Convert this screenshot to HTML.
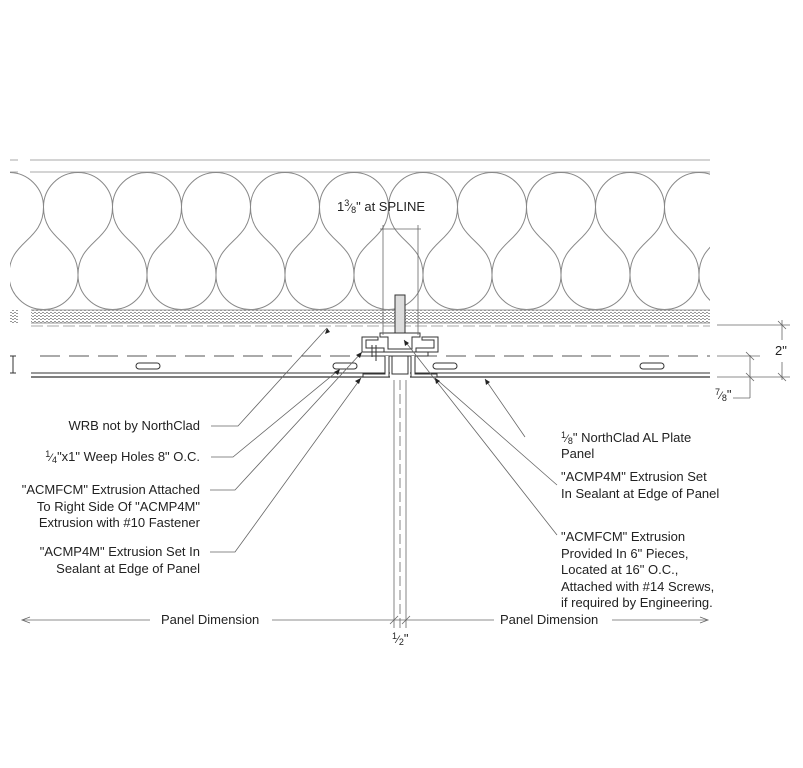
<!DOCTYPE html>
<html><head><meta charset="utf-8"><style>
html,body{margin:0;padding:0;background:#fff;}
svg{display:block}
text{font-family:"Liberation Sans",Arial,sans-serif;fill:#222;font-size:13px}
</style></head><body>
<svg width="803" height="768" viewBox="0 0 803 768" xmlns="http://www.w3.org/2000/svg">
<defs>
<clipPath id="c"><rect x="10" y="172" width="700" height="138"/></clipPath>
<pattern id="h" width="4" height="3" patternUnits="userSpaceOnUse"><rect width="4" height="3" fill="#fff"/><path d="M0 1.5h2M2 0.5h2" stroke="#999" stroke-width="1"/></pattern>
</defs>
<line x1="30" y1="160" x2="710" y2="160" stroke="#aaa"/>
<line x1="30" y1="172" x2="710" y2="172" stroke="#aaa"/>
<line x1="10" y1="160" x2="18" y2="160" stroke="#aaa"/>
<line x1="10" y1="172" x2="18" y2="172" stroke="#aaa"/>
<g clip-path="url(#c)" fill="none" stroke="#888" stroke-width="1">
<path d="
M-25.5 207 A34.5 34.5 0 0 1 43.5 207 A34.5 34.5 0 0 1 112.5 207 A34.5 34.5 0 0 1 181.5 207 A34.5 34.5 0 0 1 250.5 207 A34.5 34.5 0 0 1 319.5 207 A34.5 34.5 0 0 1 388.5 207 A34.5 34.5 0 0 1 457.5 207 A34.5 34.5 0 0 1 526.5 207 A34.5 34.5 0 0 1 595.5 207 A34.5 34.5 0 0 1 664.5 207 A34.5 34.5 0 0 1 733.5 207
M-60 275 A34.5 34.5 0 0 0 9 275 A34.5 34.5 0 0 0 78 275 A34.5 34.5 0 0 0 147 275 A34.5 34.5 0 0 0 216 275 A34.5 34.5 0 0 0 285 275 A34.5 34.5 0 0 0 354 275 A34.5 34.5 0 0 0 423 275 A34.5 34.5 0 0 0 492 275 A34.5 34.5 0 0 0 561 275 A34.5 34.5 0 0 0 630 275 A34.5 34.5 0 0 0 699 275 A34.5 34.5 0 0 0 768 275"/>
<g id="x">
<path d="M-25.5 207 C-25.5 242 9 240 9 275 M-25.5 207 C-25.5 242 -60 240 -60 275"/>
</g>
<use href="#x" x="69"/><use href="#x" x="138"/><use href="#x" x="207"/><use href="#x" x="276"/><use href="#x" x="345"/><use href="#x" x="414"/><use href="#x" x="483"/><use href="#x" x="552"/><use href="#x" x="621"/><use href="#x" x="690"/><use href="#x" x="759"/>
</g>
<rect x="31" y="310" width="679" height="13" fill="url(#h)"/>
<line x1="31" y1="310" x2="710" y2="310" stroke="#999"/>
<line x1="31" y1="323" x2="710" y2="323" stroke="#999"/>
<rect x="10" y="310" width="8" height="13" fill="url(#h)"/>
<line x1="31" y1="326" x2="710" y2="326" stroke="#aaa" stroke-dasharray="12 4"/>
<line x1="40" y1="356" x2="710" y2="356" stroke="#555" stroke-dasharray="20 9"/>
<path d="M10 356h6M13 356v17M10 373h6" stroke="#333" fill="none"/>
<line x1="31" y1="373" x2="390" y2="373" stroke="#333"/>
<line x1="31" y1="377" x2="390" y2="377" stroke="#333" stroke-width="1.3"/>
<line x1="410" y1="373" x2="710" y2="373" stroke="#333"/>
<line x1="410" y1="377" x2="710" y2="377" stroke="#333" stroke-width="1.3"/>
<g fill="#fff" stroke="#333">
<rect x="136" y="363" width="24" height="6" rx="3"/><rect x="333" y="363" width="24" height="6" rx="3"/><rect x="433" y="363" width="24" height="6" rx="3"/><rect x="640" y="363" width="24" height="6" rx="3"/>
</g>
<g fill="#fff" stroke="#333" stroke-width="1">
<rect x="395" y="295" width="10" height="40" fill="#ddd"/>
<path d="M380 333h40v4h-8v12h-24v-12h-8z"/>
<path d="M362 337h16v3h-12v8h18v4h-22z"/>
<path d="M438 337h-16v3h12v8h-18v4h22z"/>
<path d="M372 352h56v4h-56z"/>
<path d="M385 356v18h-22v3h26v-21"/>
<path d="M415 356v18h22v3h-26v-21"/>
<rect x="392" y="356" width="16" height="18"/>
<path d="M372 345v12M376 345v16" />
</g>
<g stroke="#666" fill="none" stroke-width="0.8">
<line x1="383" y1="225" x2="383" y2="335"/>
<line x1="418" y1="225" x2="418" y2="335"/>
<line x1="380" y1="229" x2="421" y2="229"/>
<line x1="394" y1="380" x2="394" y2="628"/>
<line x1="406" y1="380" x2="406" y2="628"/>
<line x1="400" y1="380" x2="400" y2="628" stroke-dasharray="10 4"/>
<line x1="22" y1="620" x2="150" y2="620"/>
<line x1="272" y1="620" x2="494" y2="620"/>
<line x1="612" y1="620" x2="708" y2="620"/>
<path d="M30 617l-8 3 8 3M700 617l8 3-8 3"/>
<path d="M390 624l8-8M402 624l8-8"/>
<line x1="717" y1="325" x2="790" y2="325"/>
<line x1="717" y1="377" x2="790" y2="377"/>
<line x1="717" y1="356" x2="760" y2="356"/>
<line x1="782" y1="320" x2="782" y2="340"/><line x1="782" y1="362" x2="782" y2="380"/>
<line x1="750" y1="355" x2="750" y2="398"/>
<line x1="733" y1="398" x2="750" y2="398"/>
<path d="M778 321l8 8M778 373l8 8M746 352l8 8M746 373l8 8"/>
<polyline points="211,426 238,426 327,328"/>
<polyline points="211,457 233,457 340,369"/>
<polyline points="210,490 235,490 362,352"/>
<polyline points="210,552 235,552 361,378"/>
<polyline points="525,437 485,379"/>
<polyline points="557,485 435,378"/>
<polyline points="557,535 404,340"/>
</g>
<g fill="#222">
<path d="M327 328l-2 6 5-2z"/><path d="M340 369l-6 3 4 3z"/><path d="M362 352l-6 3 4 3z"/><path d="M361 378l-6 3 4 3z"/>
<path d="M485 379l1 6 4-3z"/><path d="M435 378l1 6 4-3z"/><path d="M404 340l1 6 4-3z"/>
</g>
<text x="337" y="211">1<tspan font-size="9" dy="-5">3</tspan><tspan font-size="11" dy="5">⁄</tspan><tspan font-size="9" dy="2">8</tspan><tspan dy="-2">" at SPLINE</tspan></text>
<text x="775" y="355">2"</text>
<text x="715" y="399"><tspan font-size="9" dy="-4">7</tspan><tspan font-size="11" dy="4">⁄</tspan><tspan font-size="9" dy="2">8</tspan><tspan dy="-2">"</tspan></text>
<g text-anchor="end">
<text x="200" y="430">WRB not by NorthClad</text>
<text x="200" y="461"><tspan font-size="9" dy="-4">1</tspan><tspan font-size="11" dy="4">⁄</tspan><tspan font-size="9" dy="2">4</tspan><tspan dy="-2">"x1" Weep Holes 8" O.C.</tspan></text>
<text x="200" y="494">"ACMFCM" Extrusion Attached</text>
<text x="200" y="511">To Right Side Of "ACMP4M"</text>
<text x="200" y="527">Extrusion with #10 Fastener</text>
<text x="200" y="556">"ACMP4M" Extrusion Set In</text>
<text x="200" y="573">Sealant at Edge of Panel</text>
</g>
<text x="161" y="624">Panel Dimension</text>
<text x="500" y="624">Panel Dimension</text>
<text x="392" y="643"><tspan font-size="9" dy="-4">1</tspan><tspan font-size="11" dy="4">⁄</tspan><tspan font-size="9" dy="2">2</tspan><tspan dy="-2">"</tspan></text>
<text x="561" y="442"><tspan font-size="9" dy="-4">1</tspan><tspan font-size="11" dy="4">⁄</tspan><tspan font-size="9" dy="2">8</tspan><tspan dy="-2">" NorthClad AL Plate</tspan></text>
<text x="561" y="458">Panel</text>
<text x="561" y="481">"ACMP4M" Extrusion Set</text>
<text x="561" y="498">In Sealant at Edge of Panel</text>
<text x="561" y="541">"ACMFCM" Extrusion</text>
<text x="561" y="558">Provided In 6" Pieces,</text>
<text x="561" y="574">Located at 16" O.C.,</text>
<text x="561" y="591">Attached with #14 Screws,</text>
<text x="561" y="607">if required by Engineering.</text>
</svg>
</body></html>
